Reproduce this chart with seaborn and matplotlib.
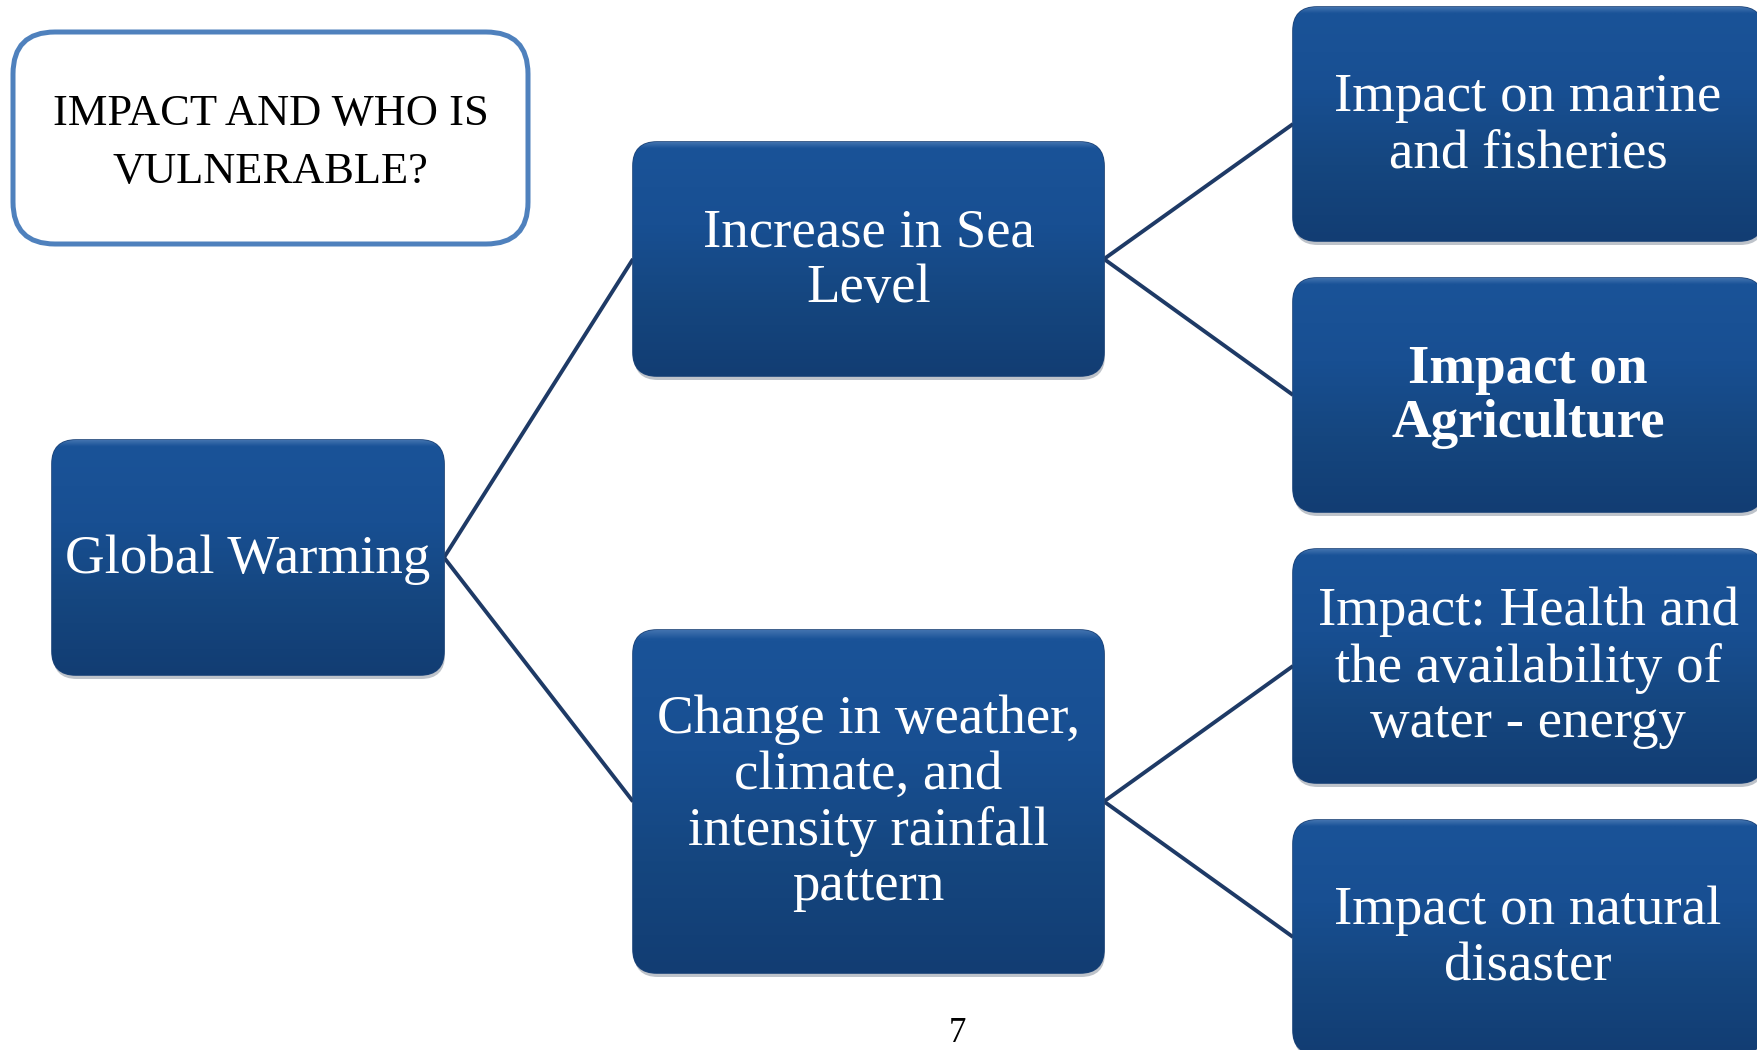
import numpy as np
import matplotlib.pyplot as plt
from matplotlib.patches import FancyBboxPatch
from matplotlib.colors import to_rgb
import seaborn as sns

# --- diagram content ---
title_lines = ['IMPACT AND WHO IS', 'VULNERABLE?']
root_label = 'Global Warming'
mid_labels = ['Increase in Sea\nLevel',
              'Change in weather,\nclimate, and\nintensity rainfall\npattern']
leaf_labels = ['Impact on marine\nand fisheries',
               'Impact on\nAgriculture',
               'Impact: Health and\nthe availability of\nwater - energy',
               'Impact on natural\ndisaster']
leaf_bold = [False, True, False, False]
leaf_parent = [0, 0, 1, 1]
page_number = '7'

# --- layout (pixel coords, y grows downwards) ---
W, H = 1757, 1050
title_box = (13, 32, 515, 212)
root_box = (52, 440, 392, 235)
mid_boxes = [(633, 142, 471, 234), (633, 630, 471, 343)]
leaf_boxes = [(1293, y, 470, 234) for y in (7, 278, 549, 820)]

sns.set_theme(style='white')
plt.rcParams['font.family'] = ['Liberation Serif', 'DejaVu Serif']

fig = plt.figure(figsize=(W / 100, H / 100), dpi=100)
ax = fig.add_axes([0, 0, 1, 1])

# vertical gradient: thin light rim at the top, then mid blue to dark navy
body = sns.blend_palette(['#1a5398', '#184f92', '#15467f', '#123d73'], 200)
rim = sns.blend_palette(['#3f70ad', '#1a5398'], 6)
grad = np.array([to_rgb(c) for c in list(rim) + list(body)])[:, None, :]
line_col = '#1e3a66'


def blue_box(box, label, bold=False):
    x, y, w, h = box
    r = 24
    shadow = FancyBboxPatch((x + 1, y + 4), w, h, boxstyle=f'round,pad=0,rounding_size={r}',
                            fc='#6f7b8a', ec='none', alpha=0.45, zorder=2)
    ax.add_patch(shadow)
    patch = FancyBboxPatch((x, y), w, h, boxstyle=f'round,pad=0,rounding_size={r}',
                           fc='#174c8e', ec='#1c4479', lw=1.2, zorder=3)
    ax.add_patch(patch)
    im = ax.imshow(grad, extent=(x, x + w, y + h, y), origin='upper',
                   interpolation='bilinear', aspect='auto', zorder=4)
    im.set_clip_path(patch)
    ax.text(x + w / 2, y + h / 2 + 2, label, ha='center', va='center', color='white',
            fontsize=39.5, linespacing=1.13, fontweight='bold' if bold else 'normal',
            zorder=5)


def mid_left(b):
    return (b[0], b[1] + b[3] / 2)


def mid_right(b):
    return (b[0] + b[2], b[1] + b[3] / 2)


# connectors
for b in mid_boxes:
    p, q = mid_right(root_box), mid_left(b)
    ax.plot([p[0], q[0]], [p[1], q[1]], color=line_col, lw=2.8, zorder=1,
            solid_capstyle='butt')
for b, par in zip(leaf_boxes, leaf_parent):
    p, q = mid_right(mid_boxes[par]), mid_left(b)
    ax.plot([p[0], q[0]], [p[1], q[1]], color=line_col, lw=2.8, zorder=1,
            solid_capstyle='butt')

# title box
tx, ty, tw, th = title_box
ax.add_patch(FancyBboxPatch((tx, ty), tw, th, boxstyle='round,pad=0,rounding_size=42',
                            fc='white', ec='#4f81bd', lw=3.6, zorder=3))
ax.text(tx + tw / 2, ty + th / 2 + 5, '\n'.join(title_lines), ha='center', va='center',
        color='black', fontsize=32, linespacing=1.6, zorder=5)

blue_box(root_box, root_label)
for b, lab in zip(mid_boxes, mid_labels):
    blue_box(b, lab)
for b, lab, bold in zip(leaf_boxes, leaf_labels, leaf_bold):
    blue_box(b, lab, bold)

ax.text(957, 1033, page_number, ha='center', va='center', color='black', fontsize=25, zorder=5)

ax.set_xlim(0, W)
ax.set_ylim(H, 0)
ax.axis('off')
fig.savefig('out.png', dpi=100, facecolor='white')
